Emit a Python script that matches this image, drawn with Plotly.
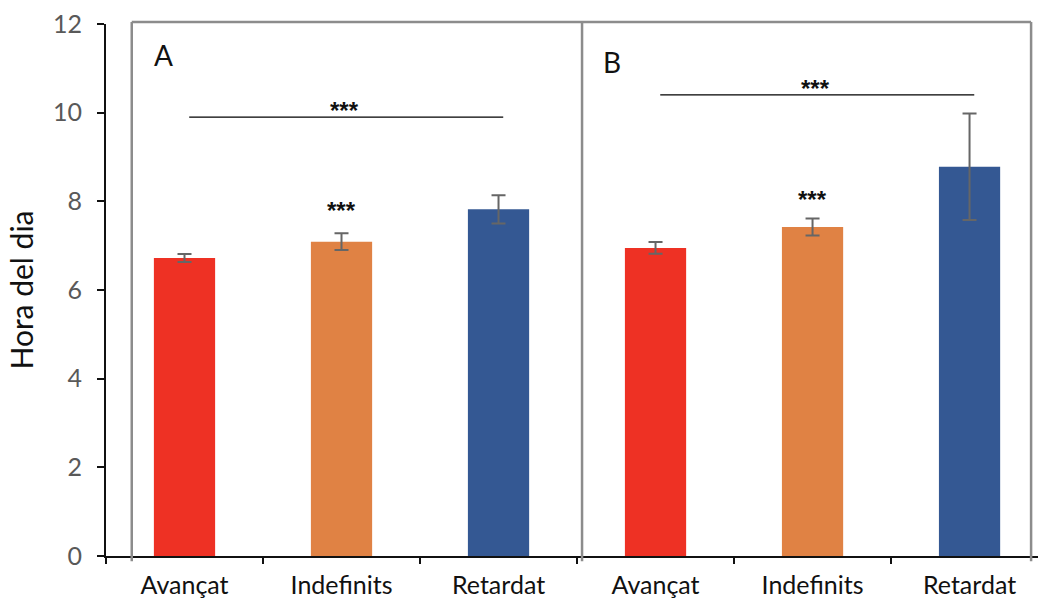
import plotly.graph_objects as go

categories = ["Avançat", "Indefinits", "Retardat", "Avançat", "Indefinits", "Retardat"]
values = [6.72, 7.09, 7.82, 6.95, 7.42, 8.78]
errors = [0.09, 0.19, 0.32, 0.13, 0.19, 1.2]
colors = ["#EE3124", "#E08244", "#345893", "#EE3124", "#E08244", "#345893"]
panel_labels = ["A", "B"]
group_sig_y = [9.9, 10.4]
indef_star_y = [7.95, 8.2]

xpos = list(range(len(categories)))
XMIN, XMAX = -0.5, 5.436

fig = go.Figure()
fig.add_trace(go.Bar(
    x=xpos, y=values, width=0.39, marker=dict(color=colors, line=dict(width=0)),
    error_y=dict(type="data", array=errors, visible=True, color="#666666", thickness=2, width=7),
    showlegend=False,
))
# invisible trace on overlay axis for boundary tick marks
fig.add_trace(go.Scatter(x=[XMIN, XMAX], y=[0, 0], xaxis="x2", mode="markers",
                         marker=dict(opacity=0), showlegend=False, hoverinfo="skip"))

def px(xd):
    return (xd - XMIN) / (XMAX - XMIN)

shapes = []
box_color = "#8C8C8C"
left, mid, right = -0.336, 2.532, 5.392
top, bottom = 1.0038, -0.01
shapes.append(dict(type="line", xref="paper", yref="paper", x0=px(left), x1=px(right), y0=top, y1=top,
                   line=dict(color=box_color, width=2.5), layer="above"))
for xv in [left, mid, right]:
    shapes.append(dict(type="line", xref="paper", yref="paper", x0=px(xv), x1=px(xv), y0=bottom, y1=top,
                       line=dict(color=box_color, width=2.5), layer="above"))

star_font = dict(size=24, color="#111111", family="Liberation Sans")
annotations = []
for g in range(2):
    x0 = 3 * g + 0.03
    x1 = 3 * g + 2.03
    shapes.append(dict(type="line", xref="x", yref="y", x0=x0, x1=x1,
                       y0=group_sig_y[g], y1=group_sig_y[g], line=dict(color="#000000", width=1.2)))
    annotations.append(dict(x=3 * g + 1.02, y=group_sig_y[g] + 0.1, text="<b>***</b>", showarrow=False,
                            xref="x", yref="y", font=star_font, yanchor="bottom", yshift=-13))
    annotations.append(dict(x=3 * g + 1.0, y=indef_star_y[g], text="<b>***</b>", showarrow=False,
                            xref="x", yref="y", font=star_font, yanchor="middle", yshift=-7))

annotations.append(dict(x=px(-0.135), y=(556 - 55) / 532, xref="paper", yref="paper", text=panel_labels[0],
                        showarrow=False, font=dict(size=28, color="#111111", family="Lato"), xanchor="center", yanchor="middle"))
annotations.append(dict(x=px(2.72), y=(556 - 62) / 532, xref="paper", yref="paper", text=panel_labels[1],
                        showarrow=False, font=dict(size=28, color="#111111", family="Lato"), xanchor="center", yanchor="middle"))

fig.update_layout(
    width=1038, height=605,
    margin=dict(l=106, r=0, t=24, b=49),
    paper_bgcolor="white", plot_bgcolor="white",
    font=dict(family="Lato", color="#595959"),
    xaxis=dict(range=[XMIN, XMAX], tickvals=xpos, ticktext=categories, ticks="",
               showline=True, linecolor="#111111", linewidth=2, showgrid=False, zeroline=False,
               tickfont=dict(size=25, color="#111111"), ticklabelstandoff=6),
    xaxis2=dict(range=[XMIN, XMAX], overlaying="x", tickvals=[-0.5, 0.5, 1.5, 2.5, 3.5, 4.5],
                ticks="outside", ticklen=7, tickwidth=2, tickcolor="#111111", showticklabels=False,
                showgrid=False, zeroline=False, showline=False, side="bottom", anchor="y"),
    yaxis=dict(range=[0, 12], tickvals=[0, 2, 4, 6, 8, 10, 12], ticks="outside", ticklen=7, tickwidth=2,
               tickcolor="#111111", showline=True, linecolor="#111111", linewidth=2,
               showgrid=False, zeroline=False, tickfont=dict(size=25, color="#595959"),
               ticklabelstandoff=10,
               title=dict(text="Hora del dia", font=dict(size=30, color="#111111"), standoff=10)),
    shapes=shapes, annotations=annotations, bargap=0.6,
)

fig.write_html("out.html")
